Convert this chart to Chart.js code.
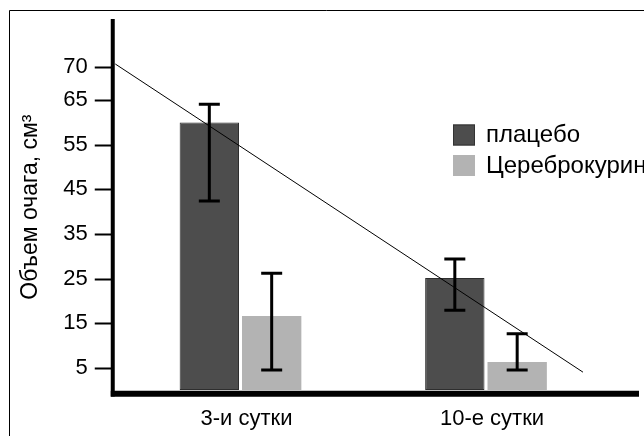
<!DOCTYPE html>
<html>
<head>
<meta charset="utf-8">
<script src="https://cdn.jsdelivr.net/npm/chart.js@4.4.1/dist/chart.umd.min.js"></script>
<style>
  html, body { margin: 0; padding: 0; background: #fff; }
  #wrap { position: relative; width: 644px; height: 436px; }
</style>
</head>
<body>
<div id="wrap"><canvas id="chart" width="644" height="436"></canvas></div>
<script>
// данные
const categories = ['3-и сутки', '10-е сутки'];
const seriesNames = ['плацебо', 'Цереброкурин'];
const placebo = [60, 25.1];
const placeboHigh = [64.1, 29.4];
const placeboLow = [42.4, 17.9];
const cerebro = [16.6, 6.3];
const cerebroHigh = [26.2, 12.6];
const cerebroLow = [4.5, 4.5];
// линия тренда (x в единицах категорий)
const trendX = [-0.51, 1.395];
const trendY = [73.1, 4.0];
// подписи оси Y (метка "70" на рисунке стоит выше своего значения)
const yTickValues = [5, 15, 25, 35, 45, 55, 65, 72.35];
const yTickLabels = ['5', '15', '25', '35', '45', '55', '65', '70'];

const FONT = "'Liberation Sans', Arial, sans-serif";
const DARK = '#4d4d4d';
const LIGHT = '#b3b3b3';

const errors = [
    { high: placeboHigh, low: placeboLow },
    { high: cerebroHigh, low: cerebroLow }
];

const decorPlugin = {
    id: 'decor',
    beforeDraw(chart) {
        const ctx = chart.ctx;
        ctx.save();
        ctx.strokeStyle = '#000';
        ctx.lineWidth = 1;
        ctx.beginPath();
        ctx.moveTo(9.5, 436);
        ctx.lineTo(9.5, 10.5);
        ctx.lineTo(644, 10.5);
        ctx.stroke();
        ctx.restore();
    },
    afterDatasetsDraw(chart) {
        const ctx = chart.ctx;
        const area = chart.chartArea;
        const x = chart.scales.x;
        const y = chart.scales.y;
        ctx.save();
        ctx.strokeStyle = '#000';

        // линия тренда
        ctx.lineWidth = 1;
        ctx.beginPath();
        trendX.forEach((tx, i) => {
            const px = x.getPixelForValue(tx);
            const py = y.getPixelForValue(trendY[i]);
            if (i === 0) ctx.moveTo(px, py); else ctx.lineTo(px, py);
        });
        ctx.stroke();

        // планки погрешностей
        ctx.lineWidth = 3;
        errors.forEach((err, di) => {
            const meta = chart.getDatasetMeta(di);
            meta.data.forEach((bar, j) => {
                const yh = y.getPixelForValue(err.high[j]);
                const yl = y.getPixelForValue(err.low[j]);
                ctx.beginPath();
                ctx.moveTo(bar.x, yh);
                ctx.lineTo(bar.x, yl);
                ctx.moveTo(bar.x - 10.5, yh);
                ctx.lineTo(bar.x + 10.5, yh);
                ctx.moveTo(bar.x - 10.5, yl);
                ctx.lineTo(bar.x + 10.5, yl);
                ctx.stroke();
            });
        });

        // оси
        const axisX = area.left - 5;
        ctx.lineWidth = 2;
        yTickValues.forEach(v => {
            const py = Math.round(y.getPixelForValue(v)) + 0.5;
            ctx.beginPath();
            ctx.moveTo(axisX - 18, py);
            ctx.lineTo(axisX, py);
            ctx.stroke();
        });
        ctx.lineWidth = 4;
        ctx.beginPath();
        ctx.moveTo(axisX, 19);
        ctx.lineTo(axisX, area.bottom + 6.5);
        ctx.stroke();
        ctx.lineWidth = 6;
        ctx.beginPath();
        ctx.moveTo(axisX - 2, area.bottom + 3.7);
        ctx.lineTo(639, area.bottom + 3.7);
        ctx.stroke();

        // легенда
        const items = [
            { fill: DARK, border: '#333', top: 124.5 },
            { fill: LIGHT, border: LIGHT, top: 155 }
        ];
        ctx.font = '24px ' + FONT;
        ctx.textBaseline = 'middle';
        ctx.textAlign = 'left';
        items.forEach((it, i) => {
            ctx.fillStyle = it.fill;
            ctx.fillRect(453, it.top, 22, 21);
            ctx.strokeStyle = it.border;
            ctx.lineWidth = 1;
            ctx.strokeRect(453.5, it.top + 0.5, 21, 20);
            ctx.fillStyle = '#000';
            ctx.fillText(seriesNames[i], 486, it.top + 11);
        });
        ctx.restore();
    }
};

new Chart(document.getElementById('chart').getContext('2d'), {
    type: 'bar',
    data: {
        labels: categories,
        datasets: [
            {
                label: seriesNames[0],
                data: placebo,
                backgroundColor: DARK,
                borderColor: '#2e2e2e',
                borderWidth: 1,
                borderSkipped: false,
                categoryPercentage: 0.508,
                barPercentage: 0.952
            },
            {
                label: seriesNames[1],
                data: cerebro,
                backgroundColor: LIGHT,
                borderWidth: 0,
                categoryPercentage: 0.508,
                barPercentage: 0.952
            }
        ]
    },
    options: {
        responsive: false,
        animation: false,
        events: [],
        layout: { padding: { left: 0, right: 35.25, top: 24.3, bottom: 0 } },
        plugins: {
            legend: { display: false },
            tooltip: { enabled: false }
        },
        scales: {
            x: {
                grid: { display: false },
                border: { display: false },
                ticks: {
                    color: '#000',
                    font: { family: FONT, size: 22 },
                    padding: 8,
                    labelOffset: 6,
                    maxRotation: 0
                },
                afterFit(scale) { scale.height = 46; }
            },
            y: {
                type: 'linear',
                min: 0,
                max: 82,
                afterBuildTicks(scale) {
                    scale.ticks = yTickValues.map(v => ({ value: v }));
                },
                afterFit(scale) { scale.width = 117.75; },
                grid: {
                    display: true,
                    drawOnChartArea: false,
                    drawTicks: true,
                    tickLength: 23,
                    tickColor: 'rgba(0,0,0,0)'
                },
                border: { display: false },
                ticks: {
                    color: '#000',
                    font: { family: FONT, size: 22 },
                    padding: 7,
                    callback: (v, i) => yTickLabels[i]
                },
                title: {
                    display: true,
                    text: 'Объем очага, см³',
                    color: '#000',
                    font: { family: FONT, size: 23 },
                    padding: { top: 17, bottom: 0 }
                }
            }
        }
    },
    plugins: [decorPlugin]
});
</script>
</body>
</html>
